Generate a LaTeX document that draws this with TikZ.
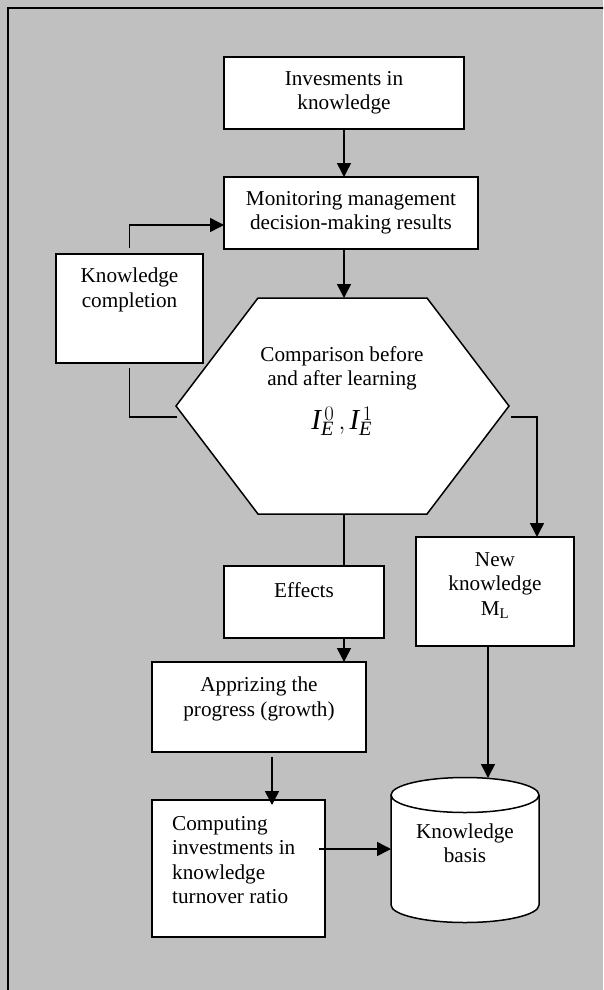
\documentclass[tikz,border=0pt]{standalone}
\usepackage{fontspec}
\setmainfont{Liberation Serif}
\usetikzlibrary{arrows.meta, positioning}
\definecolor{panel}{RGB}{192,192,192}

\begin{document}
\begin{tikzpicture}[x=1pt, y=-1pt,
  box/.style={draw, fill=white, line width=1.5pt, inner sep=0pt, outer sep=0pt,
    align=center, font=\fontsize{21.2}{24.5}\selectfont},
  txt/.style={inner sep=0pt, align=center, font=\fontsize{21.2}{24.5}\selectfont},
  wire/.style={line width=1.5pt},
  flow/.style={wire, -{Triangle[length=14pt, width=14pt]}}]

% Grey panel with its frame
\clip (0,0) rectangle (603,990);
\fill[panel] (0,0) rectangle (603,990);
\draw[line width=2pt] (7.7,1000) -- (7.7,8.3) -- (620,8.3);

% Boxes
\node[box, minimum width=240, minimum height=72] (inv) at (344,93) {Invesments in\\knowledge};
\node[box, minimum width=254, minimum height=72] (mon) at (351,213) {Monitoring management\\decision-making results};
\node[box, minimum width=147, minimum height=109] (kc) at (129.5,308.5) {};
\node[box, minimum width=160, minimum height=72] (eff) at (304,602) {};
\node[box, minimum width=214, minimum height=90] (app) at (259,707) {};
\node[box, minimum width=158, minimum height=109] (nk) at (495,591.5) {};
\node[box, minimum width=173, minimum height=137] (comp) at (238.5,868.5) {};

% Hexagon of the comparison
\coordinate (h1) at (258,298);
\coordinate (h2) at (427,298);
\coordinate (h3) at (509,406);
\coordinate (h4) at (427,514);
\coordinate (h5) at (258,514);
\coordinate (h6) at (176,406);
\draw[wire, fill=white] (h1) -- (h2) -- (h3) -- (h4) -- (h5) -- (h6) -- cycle;
\coordinate (hexN) at (344,298);
\coordinate (hexS) at (344,514);
\coordinate (hexL) at (177,417);
\coordinate (hexR) at (511,417);

% Cylinder of the knowledge basis
\draw[wire, fill=white] (391,795) -- (391,905)
  arc[start angle=180, end angle=0, x radius=74, y radius=17.5] -- (539,795);
\draw[wire, fill=white] (465,795) ellipse[x radius=74, y radius=17.5];
\coordinate (cylT) at (488,778);
\coordinate (cylW) at (391,849);

% Texts
\node[txt, below=14pt of kc.north] (kctext) {Knowledge\\completion};
\node[txt, anchor=north] (cmp) at (342,346) {Comparison before\\and after learning};
\node[txt, font=\fontsize{29}{32}\selectfont] (ie) at (342,421)
  {$\mathit{I}^{\,0}_{\mathit{E}}\,,\mathit{I}^{\,1}_{\mathit{E}}$};
\node[txt, below=16pt of eff.north] (efftext) {Effects};
\node[txt, below=15pt of app.north] (apptext) {Apprizing the\\progress (growth)};
\node[txt, below=15pt of nk.north] (nktext) {New\\knowledge\\M\textsubscript{L}};
\node[txt, align=left, below right=16pt and 20pt of comp.north west] (comptext)
  {Computing\\investments in\\knowledge\\turnover ratio};
\node[txt] (kb) at (465,843) {Knowledge\\basis};

% Connectors
\draw[flow] (inv.south) -- (inv.south |- mon.north);
\draw[flow] (mon.south -| hexN) -- (hexN);
\draw[flow] ([yshift=6pt]kc.north) |- ([yshift=-12pt]mon.west);
\draw[wire] ([yshift=-5pt]kc.south) |- (hexL);
\draw[flow] (hexR) -| ([xshift=42pt]nk.north);
\draw[wire] (hexS) -- (hexS |- eff.north);
\draw[flow] (eff.south -| hexS) -- (app.north -| hexS);
\draw[flow] ([xshift=13pt, yshift=-5pt]app.south) -- ([xshift=13pt, yshift=-5pt]app.south |- comp.north);
\draw[flow] ([xshift=-6pt]comp.east |- cylW) -- (cylW);
\draw[flow] ([xshift=-7pt]nk.south) -- (cylT);

\end{tikzpicture}
\end{document}
